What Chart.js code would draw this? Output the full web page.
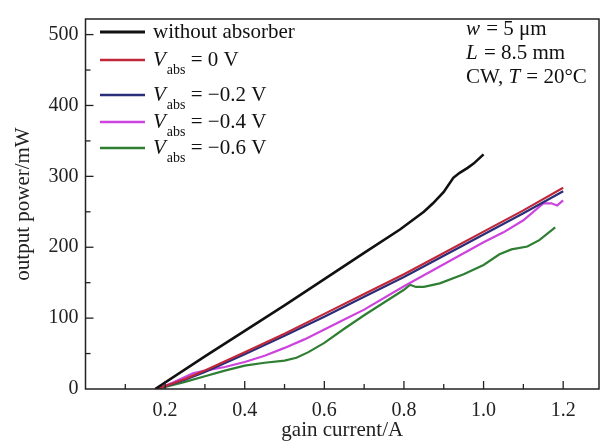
<!DOCTYPE html>
<html>
<head>
<meta charset="utf-8">
<script src="https://cdn.jsdelivr.net/npm/chart.js@4.4.1/dist/chart.umd.min.js"></script>
<style>
  html, body { margin: 0; padding: 0; background: #fff; }
  #wrap { width: 602px; height: 446px; }
</style>
</head>
<body>
<div id="wrap"><canvas id="lpChart" width="602" height="446"></canvas></div>
<script>
// gain current (A) and output power (mW)
const currentBlack = [0.175, 0.3, 0.4, 0.5, 0.6, 0.7, 0.79, 0.85, 0.873, 0.9, 0.924, 0.94, 0.96, 0.975, 1.0];
const powerBlack   = [0, 46, 82, 118, 155, 192, 225, 250, 262, 278, 298, 305, 312, 318, 331];

const currentRed = [0.18, 0.25, 0.3, 0.4, 0.5, 0.6, 0.7, 0.8, 0.9, 1.0, 1.1, 1.2];
const powerRed   = [0, 14, 26, 52, 78, 106, 134, 162, 192, 222, 252, 284];

const currentBlue = [0.18, 0.25, 0.3, 0.4, 0.5, 0.6, 0.7, 0.8, 0.9, 1.0, 1.1, 1.2];
const powerBlue   = [0, 13, 24, 49, 75, 102, 130, 158, 188, 218, 248, 279];

const currentMagenta = [0.18, 0.22, 0.27, 0.3, 0.35, 0.4, 0.45, 0.5, 0.55, 0.6, 0.65, 0.7, 0.8, 0.9, 1.0, 1.05, 1.1, 1.15, 1.17, 1.185, 1.2];
const powerMagenta   = [0, 9, 22, 26, 31, 38, 47, 58, 70, 84, 98, 112, 145, 176, 207, 221, 238, 262, 262, 259, 266];

const currentGreen = [0.18, 0.25, 0.3, 0.35, 0.4, 0.45, 0.5, 0.53, 0.56, 0.6, 0.65, 0.7, 0.75, 0.8, 0.815, 0.83, 0.85, 0.89, 0.95, 1.0, 1.04, 1.07, 1.11, 1.14, 1.18];
const powerGreen   = [0, 10, 18, 26, 33, 37, 40, 44, 52, 65, 85, 104, 122, 140, 147, 144, 144, 149, 162, 175, 190, 197, 201, 210, 228];

const seriesColors = ['#111111', '#c0283a', '#2a2d7a', '#cc44dd', '#2f7f33'];
const legendLabels = [
    [{ t: 'without absorber' }],
    [{ t: 'V', i: true }, { t: 'abs', sub: true }, { t: ' = 0 V' }],
    [{ t: 'V', i: true }, { t: 'abs', sub: true }, { t: ' = \u22120.2 V' }],
    [{ t: 'V', i: true }, { t: 'abs', sub: true }, { t: ' = \u22120.4 V' }],
    [{ t: 'V', i: true }, { t: 'abs', sub: true }, { t: ' = \u22120.6 V' }]
];
const noteLines = [
    [{ t: 'w', i: true }, { t: ' = 5 \u03bcm' }],
    [{ t: 'L', i: true }, { t: ' = 8.5 mm' }],
    [{ t: 'CW, ' }, { t: 'T', i: true }, { t: ' = 20\u00b0C' }]
];

const serif = '"Liberation Serif", "DejaVu Serif", serif';
const inkColor = '#222222';

function toPoints(xs, ys) {
    return xs.map((x, k) => ({ x: x, y: ys[k] }));
}

function drawRich(ctx, parts, x, y, size) {
    parts.forEach(p => {
        const fs = p.sub ? Math.round(size * 0.68) : size;
        ctx.font = (p.i ? 'italic ' : '') + fs + 'px ' + serif;
        const yy = p.sub ? y + size * 0.36 : y;
        ctx.fillText(p.t, x, yy);
        x += ctx.measureText(p.t).width + (p.i ? 1 : 0);
    });
}

// frame, inward ticks, legend and note
const decorPlugin = {
    id: 'decor',
    afterDraw(chart) {
        const ctx = chart.ctx;
        const a = chart.chartArea;
        const xs = chart.scales.x;
        const ys = chart.scales.y;
        ctx.save();
        ctx.strokeStyle = inkColor;
        ctx.lineWidth = 1.5;
        ctx.strokeRect(a.left, a.top, a.right - a.left, a.bottom - a.top);

        ctx.lineWidth = 1.3;
        xs.ticks.forEach(t => {
            const n = Math.round(t.value * 10);
            if (n <= 0 || Math.abs(t.value * 10 - n) > 1e-6) return;
            const px = xs.getPixelForValue(t.value);
            const len = n % 2 === 0 ? 8 : 5;
            ctx.beginPath();
            ctx.moveTo(px, a.bottom);
            ctx.lineTo(px, a.bottom - len);
            ctx.stroke();
        });
        ys.ticks.forEach(t => {
            if (t.value <= 0 || t.value % 50 !== 0) return;
            const py = ys.getPixelForValue(t.value);
            const len = t.value % 100 === 0 ? 8 : 5;
            ctx.beginPath();
            ctx.moveTo(a.left, py);
            ctx.lineTo(a.left + len, py);
            ctx.stroke();
        });

        // legend
        const rowY = [32, 60, 95, 122, 148];
        ctx.fillStyle = '#111';
        ctx.textBaseline = 'alphabetic';
        chart.data.datasets.forEach((ds, k) => {
            ctx.strokeStyle = ds.borderColor;
            ctx.lineWidth = k === 0 ? 3 : 2.5;
            ctx.beginPath();
            ctx.moveTo(100, rowY[k]);
            ctx.lineTo(145, rowY[k]);
            ctx.stroke();
            drawRich(ctx, legendLabels[k], 153, rowY[k] + 6, 21);
        });

        const noteY = [35, 59, 83];
        noteLines.forEach((parts, k) => drawRich(ctx, parts, 466, noteY[k], 21));
        ctx.restore();
    }
};

const lpChart = new Chart(document.getElementById('lpChart'), {
    type: 'line',
    data: {
        datasets: [
            { label: 'without absorber', data: toPoints(currentBlack, powerBlack), borderColor: seriesColors[0], borderWidth: 2.6 },
            { label: 'Vabs = 0 V', data: toPoints(currentRed, powerRed), borderColor: seriesColors[1], borderWidth: 2.2 },
            { label: 'Vabs = -0.2 V', data: toPoints(currentBlue, powerBlue), borderColor: seriesColors[2], borderWidth: 2.2 },
            { label: 'Vabs = -0.4 V', data: toPoints(currentMagenta, powerMagenta), borderColor: seriesColors[3], borderWidth: 2.2 },
            { label: 'Vabs = -0.6 V', data: toPoints(currentGreen, powerGreen), borderColor: seriesColors[4], borderWidth: 2.2 }
        ]
    },
    options: {
        responsive: false,
        animation: false,
        devicePixelRatio: 1,
        layout: { padding: { left: 0, right: 3, top: 8, bottom: 0 } },
        elements: { point: { radius: 0 }, line: { tension: 0, fill: false } },
        plugins: { legend: { display: false }, tooltip: { enabled: false } },
        scales: {
            x: {
                type: 'linear',
                min: 0,
                max: 1.29,
                grid: { display: false, drawTicks: false },
                border: { display: false },
                ticks: {
                    stepSize: 0.1,
                    includeBounds: false,
                    autoSkip: false,
                    maxRotation: 0,
                    padding: 10,
                    color: inkColor,
                    font: { family: serif, size: 20 },
                    callback: v => {
                        const n = Math.round(v * 10);
                        if (Math.abs(v * 10 - n) > 1e-6 || n === 0 || n % 2 !== 0) return '';
                        return v.toFixed(1);
                    }
                },
                title: {
                    display: true,
                    text: 'gain current/A',
                    color: inkColor,
                    font: { family: serif, size: 21 },
                    padding: { top: 0, bottom: 3 }
                },
                afterFit: s => { s.height = 57; }
            },
            y: {
                type: 'linear',
                min: 0,
                max: 522,
                grid: { display: false, drawTicks: false },
                border: { display: false },
                ticks: {
                    stepSize: 50,
                    includeBounds: false,
                    autoSkip: false,
                    padding: 7,
                    color: inkColor,
                    font: { family: serif, size: 20 },
                    callback: v => (v % 100 === 0 ? String(v) : '')
                },
                title: {
                    display: true,
                    text: 'output power/mW',
                    color: inkColor,
                    font: { family: serif, size: 21 },
                    padding: { top: 11, bottom: 0 }
                },
                afterFit: s => { s.width = 85.5; }
            }
        }
    },
    plugins: [decorPlugin]
});
</script>
</body>
</html>
